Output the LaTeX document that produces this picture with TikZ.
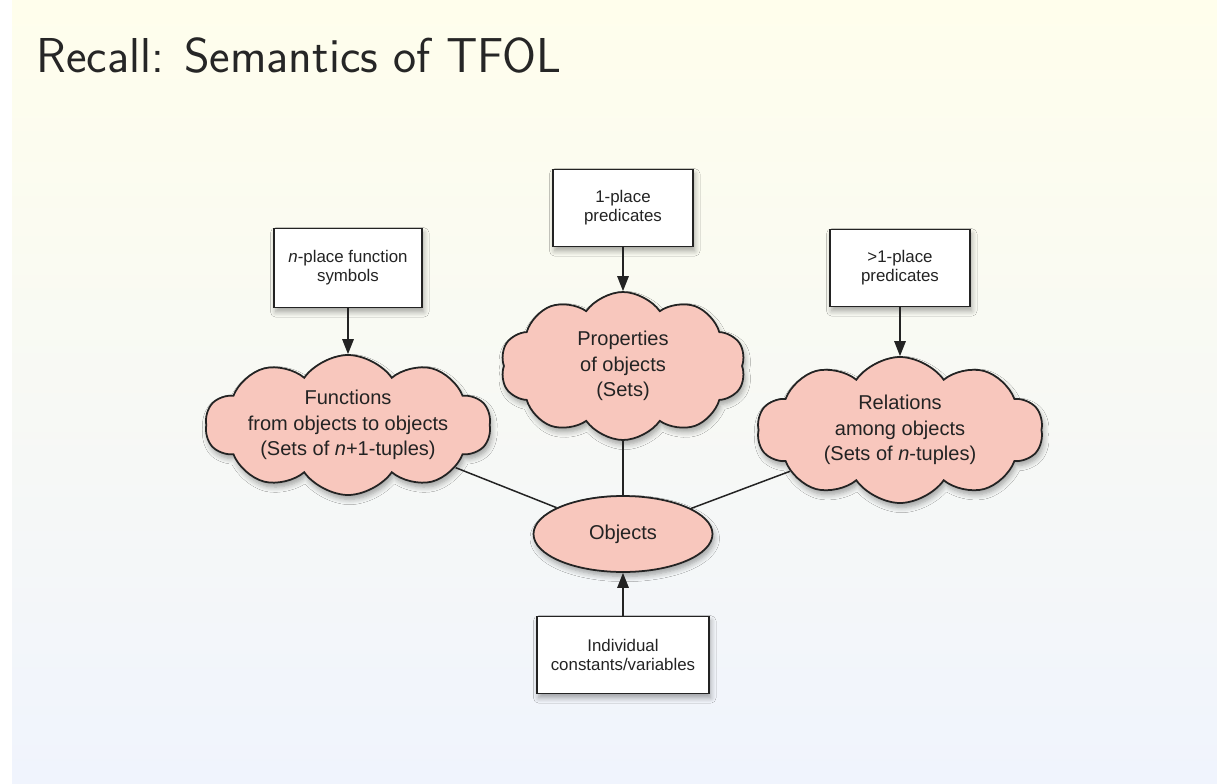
\documentclass[tikz,border=0pt]{standalone}
\usepackage{fontspec}
\newfontfamily\diagfont{Liberation Sans}
\usetikzlibrary{shapes.symbols,shapes.geometric,shadows.blur,arrows.meta}
\definecolor{slidetop}{RGB}{255,254,236}
\definecolor{slidebottom}{RGB}{240,244,253}
\definecolor{cloudpink}{RGB}{248,199,189}
\definecolor{inkgray}{RGB}{35,35,35}
\tikzset{
  softshadow/.style={blur shadow={shadow xshift=1pt, shadow yshift=-2.5pt, shadow blur radius=3pt, shadow blur steps=6, shadow opacity=35}},
  labelbox/.style={draw=inkgray, fill=white, line width=1pt, align=center, inner sep=0pt,
    text=inkgray, font=\diagfont\fontsize{9.6}{10.8}\selectfont, softshadow},
  idea/.style={cloud, cloud puffs=10, cloud puff arc=110, cloud ignores aspect, draw=inkgray,
    line width=1pt, fill=cloudpink, align=center, inner sep=0pt, text=inkgray,
    font=\diagfont\fontsize{11.4}{14.6}\selectfont, softshadow},
  link/.style={draw=inkgray, line width=0.85pt},
  maps/.style={link, -{Triangle[width=6.5pt,length=8.5pt]}}
}
\begin{document}
\begin{tikzpicture}[x=0.02cm, y=-0.02cm]
	\useasboundingbox (0,0) rectangle (1217,784);
	\fill[white] (0,0) rectangle (1217,784);
	\shade[top color=slidetop, bottom color=slidebottom] (12,0) rectangle (1217,784);
	
	\node[anchor=base west, inner sep=0pt, text=black!85, font=\sffamily\fontsize{27.9}{32}\selectfont] (title) at (36,73) {Recall: Semantics of TFOL};
	
	% clouds and the objects
	\node[idea, minimum width=5.7cm, minimum height=2.8cm] (func) at (348,425) {Functions\\from objects to objects\\(Sets of \textit{n}+1-tuples)};
	\node[idea, minimum width=4.9cm, minimum height=2.96cm] (prop) at (623,366) {Properties\\of objects\\(Sets)};
	\node[idea, minimum width=5.72cm, minimum height=2.92cm] (rel) at (900,430) {Relations\\among objects\\(Sets of \textit{n}-tuples)};
	\node[ellipse, draw=inkgray, line width=1pt, fill=cloudpink, text=inkgray, inner sep=0pt,
		minimum width=3.58cm, minimum height=1.52cm, font=\diagfont\fontsize{11.4}{14.6}\selectfont, softshadow] (obj) at (623,534) {Objects};
	
	% symbol boxes
	\node[labelbox, minimum width=2.96cm, minimum height=1.58cm] (fbox) at (348,268) {\textit{n}-place function\\symbols};
	\node[labelbox, minimum width=2.8cm, minimum height=1.54cm] (pbox) at (623,208) {1-place\\predicates};
	\node[labelbox, minimum width=2.8cm, minimum height=1.54cm] (rbox) at (900,268) {>1-place\\predicates};
	\node[labelbox, minimum width=3.44cm, minimum height=1.54cm] (ibox) at (623,655) {Individual\\constants/variables};
	
	\draw[link] (func) -- (obj);
	\draw[link] (prop) -- (obj);
	\draw[link] (rel) -- (obj);
	\draw[maps] (fbox) -- (func);
	\draw[maps] (pbox) -- (prop);
	\draw[maps] (rbox) -- (rel);
	\draw[maps] (ibox) -- (obj);
\end{tikzpicture}
\end{document}
